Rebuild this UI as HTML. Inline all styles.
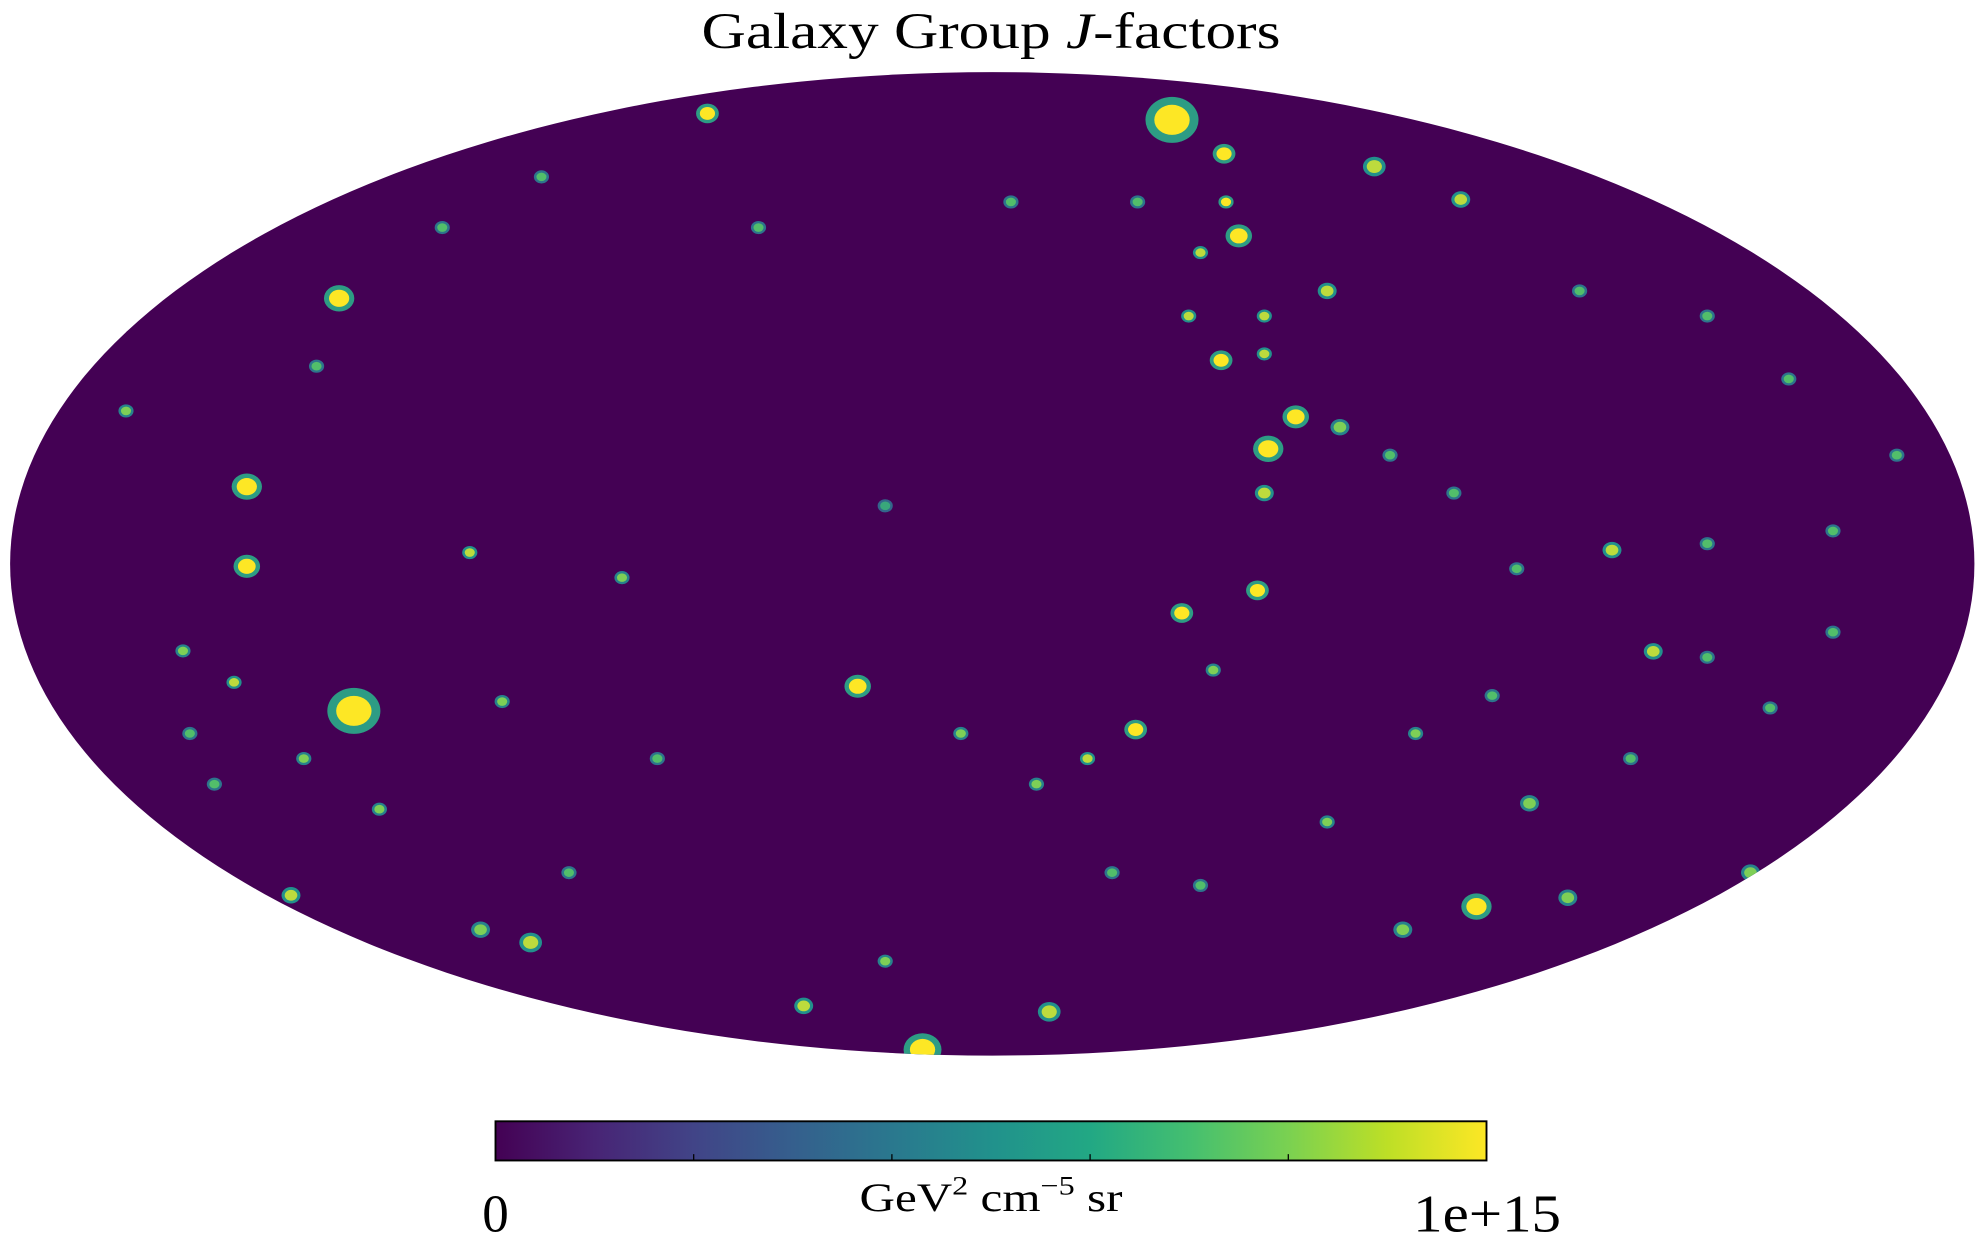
<!DOCTYPE html>
<html><head><meta charset="utf-8"><style>
html,body{margin:0;padding:0;background:#fff;}
svg{display:block;}
text{font-family:"Liberation Serif",serif;fill:#000;}
</style></head><body>
<svg id="chart" width="1982" height="1244" viewBox="0 0 1568 984" xmlns="http://www.w3.org/2000/svg">
<defs>
<linearGradient id="viridis" x1="0" x2="1" y1="0" y2="0">
<stop offset="0" stop-color="#440154"/><stop offset="0.1" stop-color="#482475"/><stop offset="0.2" stop-color="#414487"/><stop offset="0.3" stop-color="#355f8d"/><stop offset="0.4" stop-color="#2a788e"/><stop offset="0.5" stop-color="#21918c"/><stop offset="0.6" stop-color="#22a884"/><stop offset="0.7" stop-color="#44bf70"/><stop offset="0.8" stop-color="#7ad151"/><stop offset="0.9" stop-color="#bddf26"/><stop offset="1" stop-color="#fde725"/>
</linearGradient>
<clipPath id="skyclip"><ellipse cx="785" cy="446" rx="777" ry="389"/></clipPath>
</defs>
<text x="555" y="38" font-size="40" textLength="458" lengthAdjust="spacingAndGlyphs">Galaxy Group <tspan font-style="italic">J</tspan>-factors</text>
<ellipse cx="785" cy="446" rx="777" ry="389" fill="#440154"/>
<g id="spots" clip-path="url(#skyclip)"></g>
<g>
<rect x="392" y="887" width="784" height="31" fill="url(#viridis)" stroke="#000" stroke-width="1.5"/>
<g id="cbticks"></g>
<text x="392" y="974" font-size="42" text-anchor="middle">0</text>
<text x="680" y="958" font-size="32" textLength="208" lengthAdjust="spacingAndGlyphs">GeV<tspan font-size="21" dy="-13">2</tspan><tspan dy="13"> cm</tspan><tspan font-size="21" dy="-13">−5</tspan><tspan dy="13"> sr</tspan></text>
<text x="1118" y="974" font-size="42" textLength="117" lengthAdjust="spacingAndGlyphs">1e+15</text>
</g>
</svg>
<script>
// source positions in normalized map coords (u: -1..1 left-right, v: 1..-1 top-bottom) and J value (fraction of 1e15)
const srcU = [0.183,-0.650,0.281,-0.759,-0.759,-0.665,-0.137,0.493,0.251,0.236,0.389,0.309,0.270,0.193,0.673,0.631,0.477,0.146,-0.290,-0.071,0.058,-0.192,-0.470,-0.714,-0.521,0.772,0.586,0.418,0.547,0.341,0.233,0.354,-0.532,-0.499,-0.377,0.811,0.921,-0.882,-0.824,-0.772,0.045,-0.032,0.097,0.431,0.509,0.728,-0.701,-0.624,-0.431,-0.341,-0.109,-0.238,-0.459,-0.560,-0.688,-0.109,0.019,0.148,0.598,0.728,0.856,0.792,0.650,0.341,0.212,0.122,-0.586,0.277,0.225,0.200,0.212,0.238,0.277,0.277,0.405,0.470,0.534,0.728,0.856,-0.817,-0.792];
const srcV = [0.903,-0.299,0.234,0.157,-0.005,0.540,-0.249,-0.697,0.667,0.834,0.808,0.299,-0.054,-0.100,-0.178,0.028,0.741,-0.337,0.916,-0.988,-0.911,-0.899,-0.770,-0.674,-0.744,-0.628,-0.679,-0.744,-0.487,0.555,0.414,0.278,0.023,-0.280,-0.028,0.376,0.221,0.311,-0.177,-0.241,-0.448,-0.345,-0.396,-0.345,-0.268,0.041,-0.396,-0.499,-0.628,-0.396,-0.808,0.684,0.787,0.684,0.402,0.118,0.736,0.736,0.555,0.504,0.067,-0.293,-0.396,-0.525,-0.654,-0.628,-0.860,0.144,-0.216,0.504,0.633,0.736,0.427,0.504,0.221,0.144,-0.010,-0.190,-0.139,-0.345,-0.448];
const srcJ = [1.0,1.0,1.0,1.0,1.0,1.0,1.0,1.0,1.0,1.0,0.9,1.0,1.0,1.0,0.9,0.9,0.9,1.0,1.0,1.0,0.9,0.9,0.9,0.9,0.8,0.8,0.8,0.8,0.8,0.9,1.0,0.8,0.9,0.8,0.8,0.7,0.7,0.8,0.8,0.9,0.8,0.8,0.9,0.8,0.7,0.7,0.8,0.8,0.7,0.7,0.8,0.7,0.7,0.7,0.7,0.6,0.7,0.7,0.7,0.7,0.7,0.7,0.7,0.8,0.7,0.7,0.7,0.9,0.8,0.9,0.9,1.0,0.9,0.9,0.7,0.7,0.7,0.7,0.7,0.7,0.7];
const srcSize = [14,14,8,8,7,8,7,8,7,6,6,7,6,6,5,5,5,6,6,10,6,5,6,5,5,5,5,5,5,5,6,5,4,4,4,4,4,4,4,4,4,4,4,4,4,4,4,4,4,4,4,4,4,4,4,4,4,4,4,4,4,4,4,4,4,4,4,5,4,4,4,4,4,4,4,4,4,4,4,4,4];
const cbTicks = [0.2,0.4,0.6,0.8];

const NS='http://www.w3.org/2000/svg';
const cx=785, cy=446, rx=777, ry=389;
const xS = u => cx + u*rx;
const yS = v => cy - v*ry;
function viridis(t){
  const s=[[68,1,84],[59,82,139],[33,145,140],[94,201,98],[253,231,37]];
  const p=Math.max(0,Math.min(1,t))*(s.length-1), i=Math.min(s.length-2,Math.floor(p)), f=p-i;
  const c=s[i].map((a,k)=>Math.round(a+(s[i+1][k]-a)*f));
  return 'rgb('+c.join(',')+')';
}
const g=document.getElementById('spots');
for(let i=0;i<srcU.length;i++){
  const x=xS(srcU[i]), y=yS(srcV[i]), r=srcSize[i];
  const halo=document.createElementNS(NS,'ellipse');
  halo.setAttribute('cx',x);halo.setAttribute('cy',y);
  halo.setAttribute('rx',r*1.5);halo.setAttribute('ry',r*1.3);
  halo.setAttribute('fill',viridis(srcJ[i]*0.55));
  
  
  g.appendChild(halo);
  const core=document.createElementNS(NS,'ellipse');
  core.setAttribute('cx',x);core.setAttribute('cy',y);
  core.setAttribute('rx',r);core.setAttribute('ry',r*0.85);
  core.setAttribute('fill',viridis(srcJ[i]));
  
  
  g.appendChild(core);
}
const tg=document.getElementById('cbticks');
cbTicks.forEach(t=>{
  const l=document.createElementNS(NS,'line');
  const x=392+t*784;
  l.setAttribute('x1',x);l.setAttribute('x2',x);l.setAttribute('y1',913);l.setAttribute('y2',918);
  l.setAttribute('stroke','#000');l.setAttribute('stroke-width','1');
  
  
  tg.appendChild(l);
});
</script>
</body></html>
